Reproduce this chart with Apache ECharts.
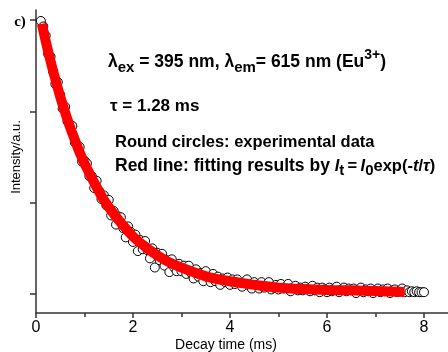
<!DOCTYPE html>
<html>
<head>
<meta charset="utf-8">
<script src="https://cdn.jsdelivr.net/npm/echarts@6/dist/echarts.min.js"></script>
<style>html,body{margin:0;padding:0;background:#fff}#c{width:448px;height:352px}</style>
</head>
<body>
<div id="c"></div>
<script>
// ---- data ----
const timeMs = [0.10,0.15,0.20,0.25,0.30,0.35,0.40,0.45,0.50,0.55,0.60,0.65,0.70,0.75,0.80,0.85,0.90,0.95,1.00,
1.05,1.10,1.15,1.20,1.25,1.30,1.35,1.40,1.45,1.50,1.55,1.60,1.65,1.70,1.75,1.80,1.85,1.90,1.95,2.00,
2.05,2.10,2.15,2.20,2.25,2.30,2.35,2.40,2.45,2.50,2.55,2.60,2.65,2.70,2.75,2.80,2.85,2.90,2.95,3.00,
3.05,3.10,3.15,3.20,3.25,3.30,3.35,3.40,3.45,3.50,3.55,3.60,3.65,3.70,3.75,3.80,3.85,3.90,3.95,4.00,
4.05,4.10,4.15,4.20,4.25,4.30,4.35,4.40,4.45,4.50,4.55,4.60,4.65,4.70,4.75,4.80,4.85,4.90,4.95,5.00,
5.05,5.10,5.15,5.20,5.25,5.30,5.35,5.40,5.45,5.50,5.55,5.60,5.65,5.70,5.75,5.80,5.85,5.90,5.95,6.00,
6.05,6.10,6.15,6.20,6.25,6.30,6.35,6.40,6.45,6.50,6.55,6.60,6.65,6.70,6.75,6.80,6.85,6.90,6.95,7.00,
7.05,7.10,7.15,7.20,7.25,7.30,7.35,7.40,7.45,7.50,7.55,7.60,7.65,7.70,7.75,7.80,7.85,7.90,7.95,8.00];
const intensity = [2.99,2.93,2.83,2.63,2.60,2.44,2.30,2.32,2.18,2.03,2.05,1.89,1.86,1.84,1.66,1.63,1.61,1.45,1.46,
1.43,1.29,1.29,1.16,1.24,1.13,1.04,1.08,0.97,1.03,0.86,0.91,0.76,0.85,0.84,0.72,0.62,0.74,0.68,0.57,
0.65,0.47,0.59,0.49,0.58,0.48,0.39,0.50,0.29,0.45,0.37,0.44,0.31,0.37,0.24,0.38,0.29,0.25,0.33,0.25,
0.31,0.22,0.31,0.23,0.17,0.27,0.19,0.23,0.14,0.25,0.18,0.13,0.22,0.14,0.19,0.10,0.17,0.13,0.18,0.10,
0.16,0.11,0.16,0.12,0.08,0.13,0.16,0.09,0.06,0.13,0.10,0.06,0.13,0.07,0.10,0.13,0.05,0.07,0.10,0.05,
0.11,0.06,0.08,0.11,0.03,0.07,0.09,0.04,0.07,0.04,0.08,0.05,0.03,0.09,0.04,0.07,0.02,0.07,0.05,0.02,
0.07,0.03,0.06,0.08,0.02,0.05,0.07,0.03,0.06,0.04,0.06,0.01,0.05,0.07,0.02,0.05,0.03,0.06,0.01,0.04,
0.06,0.02,0.05,0.03,0.06,0.01,0.04,0.05,0.02,0.04,0.06,0.02,0.04,0.02,0.03,0.02,0.03,0.02,0.02,0.02];
const fitTime = [0.12,0.2,0.3,0.4,0.5,0.6,0.7,0.8,0.9,1.0,1.2,1.4,1.6,1.8,2.0,2.2,2.4,2.7,3.0,3.3,3.6,4.0,4.5,5.0,5.5,6.0,6.5,7.0,7.6];
const fitIntensity = [2.96,2.77,2.55,2.35,2.16,1.99,1.83,1.69,1.55,1.43,1.22,1.03,0.88,0.75,0.63,0.54,0.46,0.36,0.29,0.23,0.18,0.14,0.10,0.07,0.055,0.045,0.04,0.032,0.022];
const xMajorTicks = [0,2,4,6,8];
const xMinorTicks = [1,3,5,7];
const yTicks = [0,1,2,3];

// ---- text layout helper ----
const FF = '"Liberation Sans", Arial, sans-serif';
const cv = document.createElement('canvas').getContext('2d');
function textRun(x, y, segs) {
  const out = [];
  let cx = x;
  segs.forEach(s => {
    const size = s[1], dy = s[2] || 0, italic = s[3] ? 'italic' : 'normal';
    cv.font = italic + ' bold ' + size + 'px ' + FF;
    const w = cv.measureText(s[0]).width;
    out.push({type:'text', x:cx, y:y+dy, silent:true,
      style:{text:s[0], fontSize:size, fontWeight:'bold', fontStyle:italic, fontFamily:FF,
             fill:'#000', verticalAlign:'middle', align:'left'}});
    cx += w + (s[4] || 0);
  });
  return out;
}

const axisColor = '#333';
const gridBox = {left:36, right:0, top:10, bottom:39};
const chart = echarts.init(document.getElementById('c'), null, {renderer:'canvas'});
chart.setOption({
  animation:false,
  backgroundColor:'#fff',
  grid:[Object.assign({}, gridBox), Object.assign({}, gridBox)],
  xAxis:[{
    gridIndex:0, type:'value', min:0, max:8.495, position:'bottom',
    axisLine:{show:true, onZero:false, lineStyle:{color:axisColor, width:1.5}},
    axisTick:{show:true, customValues:xMajorTicks, length:5, lineStyle:{color:axisColor, width:1.5}},
    axisLabel:{show:true, customValues:xMajorTicks, fontSize:16, color:'#000', margin:7, fontFamily:FF},
    splitLine:{show:false}
  },{
    gridIndex:1, type:'value', min:0, max:8.495, position:'bottom',
    axisLine:{show:true, onZero:false, lineStyle:{color:'rgba(0,0,0,0)', width:1}},
    axisTick:{show:true, customValues:xMinorTicks, length:4, lineStyle:{color:axisColor, width:1.5}},
    axisLabel:{show:false},
    splitLine:{show:false}
  }],
  yAxis:[{
    gridIndex:0, type:'value', min:-0.208, max:3.11,
    axisLine:{show:true, onZero:false, lineStyle:{color:axisColor, width:1.5}},
    axisTick:{show:true, customValues:yTicks, length:6, lineStyle:{color:axisColor, width:1.5}},
    axisLabel:{show:false, customValues:yTicks},
    splitLine:{show:false}
  },{
    gridIndex:1, type:'value', min:-0.208, max:3.11,
    axisLine:{show:false}, axisTick:{show:false}, axisLabel:{show:false}, splitLine:{show:false}
  }],
  series:[{
    type:'scatter', xAxisIndex:0, yAxisIndex:0,
    data: timeMs.map((t,i)=>[t, intensity[i]]),
    symbol:'circle', symbolSize:9,
    itemStyle:{color:'#fff', borderColor:'#000', borderWidth:1, opacity:1},
    z:2
  },{
    type:'line', xAxisIndex:0, yAxisIndex:0,
    data: fitTime.map((t,i)=>[t, fitIntensity[i]]),
    smooth:true, showSymbol:false, symbol:'none',
    lineStyle:{color:'#ff0000', width:10, cap:'butt'},
    z:3
  }],
  graphic:[
    {type:'text', x:20, y:22, style:{text:'c)', fontSize:15, fontWeight:'bold', fontFamily:'"Liberation Serif", serif', fill:'#000', align:'center', verticalAlign:'middle'}},
    {type:'text', x:16, y:157, rotation:Math.PI/2, style:{text:'Intensity/a.u.', fontSize:13, fontFamily:FF, fill:'#000', align:'center', verticalAlign:'middle'}},
    {type:'text', x:226, y:345, style:{text:'Decay time (ms)', fontSize:14, fontFamily:FF, fill:'#000', align:'center', verticalAlign:'middle'}},
    ...textRun(108, 62, [['λ',17.5],['ex',15,6],[' = 395 nm, λ',17.5],['em',15,6],['= 615 nm (Eu',17.5],['3+',14,-7],[')',17.5]]),
    ...textRun(110, 106, [['τ = 1.28 ms',17]]),
    ...textRun(115, 142, [['Round circles: experimental data',16.5]]),
    ...textRun(115, 166, [['Red line: fitting results by ',17.5],['I',16.5,0,1],['t',15,5],['\u2009=\u2009',16.5],['I',16.5,0,1],['0',15,5],['exp(-',16.5],['t',16.5,0,1],['/',16.5],['τ',16.5,0,1],[')',16.5]])
  ]
});
</script>
</body>
</html>
